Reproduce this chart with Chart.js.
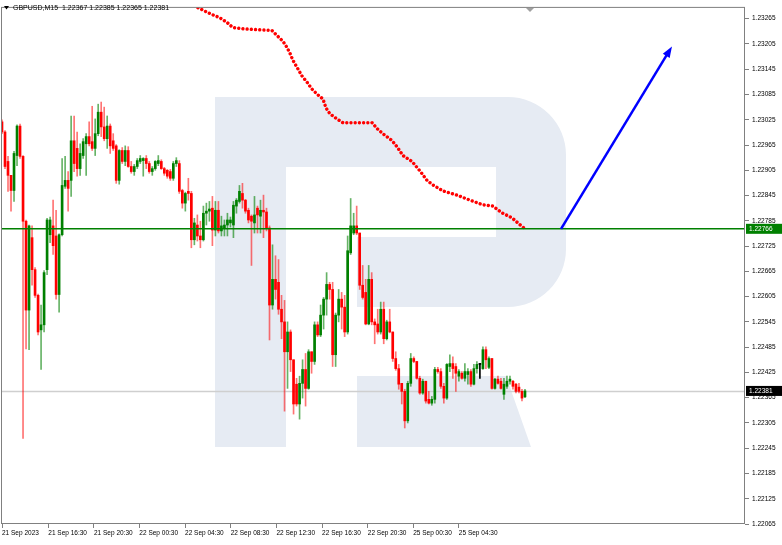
<!DOCTYPE html>
<html>
<head>
<meta charset="utf-8">
<title>GBPUSD,M15</title>
<script src="https://cdn.jsdelivr.net/npm/chart.js@4.4.0/dist/chart.umd.min.js"></script>
<style>
html, body { margin: 0; padding: 0; background: #fff; }
#wrap { width: 782px; height: 545px; }
</style>
</head>
<body>
<div id="wrap"><canvas id="chart" width="782" height="545"></canvas></div>
<script>
//==========
// Data

const symbol = "GBPUSD,M15";

const openP = [
	1.23020,1.22996,1.22926,1.22893,1.22857,1.22940,1.23010,1.22938,1.22784,1.22573,
	1.22745,1.22669,1.22608,1.22526,1.22538,1.22669,1.22752,1.22773,1.22749,1.22610,
	1.22752,1.22867,1.22881,1.22881,1.22975,1.22957,1.22909,1.22940,1.22968,1.22985,
	1.22973,1.22957,1.22992,1.23043,1.23008,1.22980,1.23010,1.22975,1.22963,1.22881,
	1.22952,1.22926,1.22952,1.22914,1.22902,1.22914,1.22926,1.22928,1.22933,1.22921,
	1.22902,1.22909,1.22921,1.22926,1.22909,1.22905,1.22902,1.22886,1.22921,1.22921,
	1.22857,1.22827,1.22855,1.22850,1.22740,1.22775,1.22749,1.22740,1.22803,1.22808,
	1.22815,1.22763,1.22810,1.22761,1.22768,1.22775,1.22780,1.22775,1.22820,1.22831,
	1.22850,1.22834,1.22810,1.22796,1.22780,1.22815,1.22796,1.22810,1.22806,1.22768,
	1.22585,1.22646,1.22639,1.22575,1.22545,1.22474,1.22521,1.22455,1.22397,1.22350,
	1.22399,1.22432,1.22387,1.22474,1.22451,1.22538,1.22514,1.22561,1.22599,1.22634,
	1.22622,1.22467,1.22561,1.22599,1.22580,1.22521,1.22709,1.22756,1.22773,1.22756,
	1.22632,1.22615,1.22540,1.22646,1.22545,1.22540,1.22521,1.22575,1.22505,1.22545,
	1.22521,1.22458,1.22434,1.22399,1.22380,1.22310,1.22399,1.22458,1.22451,1.22411,
	1.22376,1.22404,1.22361,1.22352,1.22361,1.22432,1.22427,1.22392,1.22364,1.22439,
	1.22446,1.22439,1.22416,1.22423,1.22411,1.22420,1.22427,1.22397,1.22434,1.22444,
	1.22434,1.22479,1.22437,1.22458,1.22387,1.22409,1.22404,1.22373,1.22392,1.22404,
	1.22404,1.22397,1.22390,1.22380,1.22367
];
const highP = [
	1.23025,1.22999,1.22938,1.22893,1.22950,1.23013,1.23015,1.22940,1.22787,1.22775,
	1.22773,1.22674,1.22611,1.22585,1.22667,1.22791,1.22794,1.22834,1.22810,1.22754,
	1.22933,1.22938,1.22902,1.23034,1.23034,1.22996,1.22968,1.22980,1.22992,1.23020,
	1.23057,1.23027,1.23062,1.23067,1.23055,1.23034,1.23015,1.22992,1.22966,1.22954,
	1.22959,1.22963,1.22961,1.22926,1.22919,1.22933,1.22940,1.22935,1.22940,1.22926,
	1.22914,1.22928,1.22940,1.22930,1.22912,1.22907,1.22907,1.22926,1.22935,1.22928,
	1.22860,1.22853,1.22886,1.22855,1.22791,1.22799,1.22784,1.22820,1.22827,1.22831,
	1.22843,1.22831,1.22831,1.22796,1.22787,1.22803,1.22794,1.22831,1.22838,1.22869,
	1.22874,1.22836,1.22815,1.22799,1.22843,1.22820,1.22834,1.22846,1.22815,1.22773,
	1.22728,1.22702,1.22693,1.22608,1.22596,1.22545,1.22526,1.22455,1.22411,1.22416,
	1.22455,1.22470,1.22479,1.22474,1.22545,1.22545,1.22585,1.22603,1.22662,1.22639,
	1.22639,1.22566,1.22622,1.22615,1.22608,1.22749,1.22838,1.22803,1.22820,1.22756,
	1.22679,1.22646,1.22679,1.22662,1.22552,1.22575,1.22592,1.22592,1.22549,1.22575,
	1.22521,1.22474,1.22444,1.22399,1.22385,1.22404,1.22470,1.22462,1.22451,1.22416,
	1.22409,1.22404,1.22380,1.22368,1.22437,1.22437,1.22434,1.22399,1.22446,1.22467,
	1.22462,1.22446,1.22432,1.22427,1.22446,1.22434,1.22432,1.22444,1.22451,1.22446,
	1.22486,1.22486,1.22462,1.22458,1.22411,1.22416,1.22411,1.22411,1.22416,1.22416,
	1.22406,1.22399,1.22399,1.22385,1.22385
];
const lowP = [
	1.22992,1.22909,1.22855,1.22808,1.22831,1.22916,1.22933,1.22268,1.22481,1.22479,
	1.22632,1.22603,1.22514,1.22432,1.22521,1.22657,1.22733,1.22705,1.22599,1.22568,
	1.22749,1.22862,1.22808,1.22843,1.22902,1.22891,1.22893,1.22933,1.22893,1.22963,
	1.22952,1.22940,1.22987,1.22985,1.22975,1.22957,1.22945,1.22952,1.22874,1.22872,
	1.22921,1.22916,1.22912,1.22898,1.22893,1.22909,1.22921,1.22891,1.22909,1.22898,
	1.22893,1.22905,1.22916,1.22907,1.22893,1.22886,1.22881,1.22881,1.22914,1.22850,
	1.22815,1.22808,1.22834,1.22721,1.22728,1.22737,1.22721,1.22737,1.22775,1.22784,
	1.22726,1.22749,1.22756,1.22749,1.22749,1.22749,1.22770,1.22745,1.22803,1.22827,
	1.22815,1.22803,1.22780,1.22679,1.22756,1.22756,1.22756,1.22745,1.22761,1.22502,
	1.22575,1.22599,1.22563,1.22505,1.22333,1.22387,1.22427,1.22326,1.22345,1.22314,
	1.22364,1.22345,1.22385,1.22423,1.22444,1.22510,1.22510,1.22528,1.22561,1.22599,
	1.22439,1.22439,1.22545,1.22528,1.22510,1.22516,1.22705,1.22752,1.22752,1.22622,
	1.22599,1.22538,1.22538,1.22538,1.22493,1.22516,1.22516,1.22493,1.22502,1.22519,
	1.22451,1.22430,1.22385,1.22350,1.22293,1.22305,1.22392,1.22448,1.22409,1.22373,
	1.22373,1.22352,1.22350,1.22347,1.22352,1.22423,1.22387,1.22352,1.22361,1.22427,
	1.22411,1.22380,1.22404,1.22409,1.22404,1.22397,1.22392,1.22395,1.22423,1.22411,
	1.22432,1.22434,1.22434,1.22385,1.22385,1.22397,1.22385,1.22361,1.22387,1.22397,
	1.22385,1.22376,1.22376,1.22357,1.22365
];
const closeP = [
	1.22996,1.22914,1.22893,1.22857,1.22945,1.23010,1.22938,1.22784,1.22573,1.22773,
	1.22669,1.22608,1.22521,1.22538,1.22662,1.22787,1.22787,1.22726,1.22610,1.22752,
	1.22869,1.22881,1.22862,1.22975,1.22921,1.22909,1.22945,1.22973,1.22985,1.22968,
	1.22957,1.22992,1.23043,1.23008,1.22980,1.23010,1.22963,1.22957,1.22881,1.22952,
	1.22926,1.22952,1.22914,1.22902,1.22914,1.22928,1.22933,1.22933,1.22921,1.22902,
	1.22909,1.22926,1.22928,1.22909,1.22898,1.22891,1.22886,1.22921,1.22928,1.22855,
	1.22827,1.22850,1.22850,1.22740,1.22780,1.22749,1.22740,1.22803,1.22808,1.22813,
	1.22763,1.22810,1.22761,1.22773,1.22775,1.22787,1.22787,1.22822,1.22834,1.22855,
	1.22834,1.22808,1.22787,1.22784,1.22799,1.22799,1.22810,1.22806,1.22768,1.22585,
	1.22646,1.22622,1.22575,1.22545,1.22474,1.22521,1.22455,1.22350,1.22350,1.22399,
	1.22432,1.22387,1.22474,1.22451,1.22538,1.22514,1.22561,1.22599,1.22634,1.22622,
	1.22467,1.22561,1.22599,1.22580,1.22521,1.22714,1.22773,1.22773,1.22756,1.22632,
	1.22603,1.22540,1.22646,1.22545,1.22538,1.22521,1.22575,1.22505,1.22545,1.22521,
	1.22458,1.22434,1.22397,1.22380,1.22310,1.22399,1.22458,1.22451,1.22411,1.22376,
	1.22404,1.22357,1.22352,1.22361,1.22432,1.22427,1.22392,1.22364,1.22444,1.22446,
	1.22434,1.22423,1.22427,1.22411,1.22427,1.22427,1.22397,1.22434,1.22444,1.22444,
	1.22479,1.22455,1.22458,1.22387,1.22409,1.22399,1.22387,1.22397,1.22404,1.22409,
	1.22392,1.22380,1.22380,1.22364,1.22381
];

// time axis labels, placed at candle positions
const timeLabels = ["21 Sep 2023","21 Sep 16:30","21 Sep 20:30","22 Sep 00:30","22 Sep 04:30",
	"22 Sep 08:30","22 Sep 12:30","22 Sep 16:30","22 Sep 20:30","25 Sep 00:30","25 Sep 04:30"];
const timeIdx = [0, 15.4, 30.6, 45.7, 60.9, 76.1, 91.3, 106.5, 121.7, 136.8, 152.0];

// price scale
const priceTicks = [1.22065,1.22125,1.22185,1.22245,1.22305,1.22365,1.22425,1.22485,1.22545,1.22605,
	1.22665,1.22725,1.22785,1.22845,1.22905,1.22965,1.23025,1.23085,1.23145,1.23205,1.23265];

const levelPrice = 1.22766;// horizontal level
const bidPrice = 1.22381;// current price

// red dotted projection
const trendIdx = [65.2,69.2,72.5,74.9,76.8,80.2,84.8,89.8,91.8,93.5,94.8,95.8,96.8,98.1,99.8,101.5,
	103.1,104.8,106.8,107.8,109.1,111.4,113.4,118.1,123.1,124.8,126.7,129.7,131.4,133.4,136.4,
	139.1,141.4,143.4,146.7,151.4,155.7,160.0,163.3,166.3,169.7,172.3,174.0];
const trendPrice = [1.23291,1.23277,1.23267,1.23256,1.23244,1.23241,1.23239,1.23237,1.23223,1.23211,
	1.23197,1.23183,1.23166,1.23150,1.23129,1.23114,1.23098,1.23086,1.23074,1.23053,1.23039,1.23027,
	1.23018,1.23018,1.23018,1.23004,1.22992,1.22976,1.22961,1.22940,1.22926,1.22903,1.22881,1.22870,
	1.22856,1.22846,1.22834,1.22823,1.22820,1.22804,1.22792,1.22776,1.22766];

// blue forecast arrow
const arrowIdx = [186.0, 222.9];
const arrowPrice = [1.22766, 1.23199];

//==========
// Colors

const BULL = "rgb(0,128,0)";
const BEAR = "rgb(255,0,0)";
const BULL_WICK = "rgba(0,128,0,0.6)";
const BEAR_WICK = "rgba(255,0,0,0.55)";

function candleColor(i, wick){
	if(closeP[i] > openP[i]) return wick ? BULL_WICK : BULL;
	if(closeP[i] < openP[i]) return wick ? BEAR_WICK : BEAR;
	return "#000";
}

const wicks = [];
const bodies = [];
const wickColors = [];
const bodyColors = [];
for(let i=0; i<openP.length; i++){
	wicks.push({x: i, y: [lowP[i], highP[i]]});
	bodies.push({x: i, y: [Math.min(openP[i], closeP[i]), Math.max(openP[i], closeP[i])]});
	wickColors.push(candleColor(i, true));
	bodyColors.push(candleColor(i, false));
}
const trend = trendIdx.map((v, i)=>({x: v, y: trendPrice[i]}));

//==========
// Plugins

// watermark logo behind the candles
const logoPlugin = {
	id: "logo",
	beforeDatasetsDraw(chart){
		const ctx = chart.ctx;
		ctx.save();
		ctx.fillStyle = "#e6ebf3";
		ctx.beginPath();
		ctx.moveTo(215, 97);
		ctx.lineTo(506, 97);
		ctx.arcTo(566, 97, 566, 157, 58);
		ctx.lineTo(566, 250);
		ctx.arcTo(566, 307, 506, 307, 58);
		ctx.lineTo(357, 307);
		ctx.lineTo(357, 237);
		ctx.lineTo(496, 237);
		ctx.lineTo(496, 167);
		ctx.lineTo(286, 167);
		ctx.lineTo(286, 447);
		ctx.lineTo(215, 447);
		ctx.closePath();
		ctx.fill();
		// leg
		ctx.beginPath();
		ctx.moveTo(357, 376);
		ctx.lineTo(506, 376);
		ctx.lineTo(531, 447);
		ctx.lineTo(357, 447);
		ctx.closePath();
		ctx.fill();
		// bid line
		const y = Math.round(chart.scales.y.getPixelForValue(bidPrice)) + 0.5;
		ctx.strokeStyle = "#cfcfcf";
		ctx.lineWidth = 1.5;
		ctx.beginPath();
		ctx.moveTo(chart.chartArea.left, y);
		ctx.lineTo(chart.chartArea.right, y);
		ctx.stroke();
		ctx.restore();
	}
};

const overlayPlugin = {
	id: "overlay",
	afterDatasetsDraw(chart){
		const ctx = chart.ctx;
		const xs = chart.scales.x, ys = chart.scales.y;
		const area = chart.chartArea;
		ctx.save();
		// green level
		const ly = ys.getPixelForValue(levelPrice);
		ctx.strokeStyle = "rgb(0,128,0)";
		ctx.lineWidth = 1.5;
		ctx.beginPath();
		ctx.moveTo(area.left, ly);
		ctx.lineTo(area.right, ly);
		ctx.stroke();
		// arrow
		const x1 = xs.getPixelForValue(arrowIdx[0]), y1 = ys.getPixelForValue(arrowPrice[0]);
		const x2 = xs.getPixelForValue(arrowIdx[1]), y2 = ys.getPixelForValue(arrowPrice[1]);
		const ang = Math.atan2(y2 - y1, x2 - x1);
		ctx.strokeStyle = "#0000ff";
		ctx.fillStyle = "#0000ff";
		ctx.lineWidth = 2.5;
		ctx.beginPath();
		ctx.moveTo(x1, y1);
		ctx.lineTo(x2 - 7 * Math.cos(ang), y2 - 7 * Math.sin(ang));
		ctx.stroke();
		ctx.beginPath();
		ctx.moveTo(x2, y2);
		ctx.lineTo(x2 - 11 * Math.cos(ang) + 4 * Math.sin(ang), y2 - 11 * Math.sin(ang) - 4 * Math.cos(ang));
		ctx.lineTo(x2 - 11 * Math.cos(ang) - 4 * Math.sin(ang), y2 - 11 * Math.sin(ang) + 4 * Math.cos(ang));
		ctx.closePath();
		ctx.fill();
		ctx.restore();
	},
	afterDraw(chart){
		const ctx = chart.ctx;
		const ys = chart.scales.y;
		const area = chart.chartArea;
		ctx.save();
		// frame
		ctx.strokeStyle = "#808080";
		ctx.lineWidth = 1;
		ctx.strokeRect(area.left + 0.5, area.top + 0.5, area.right - area.left - 1, area.bottom - area.top - 1);
		// price boxes on the axis
		ctx.font = "6.5px 'Liberation Sans', Arial, sans-serif";
		ctx.textBaseline = "middle";
		const boxes = [[levelPrice, "rgb(0,128,0)"], [bidPrice, "#000"]];
		for(const [p, col] of boxes){
			const y = ys.getPixelForValue(p);
			ctx.fillStyle = col;
			ctx.fillRect(area.right + 1, y - 5, 36, 10);
			ctx.fillStyle = "#fff";
			ctx.fillText(p.toFixed(5), area.right + 4, y + 0.5);
		}
		// header
		ctx.fillStyle = "#000";
		ctx.beginPath();
		ctx.moveTo(4, 6);
		ctx.lineTo(9, 6);
		ctx.lineTo(6.5, 9.5);
		ctx.closePath();
		ctx.fill();
		ctx.font = "7px 'Liberation Sans', Arial, sans-serif";
		const n = openP.length - 1;
		const head = symbol + "  " + [openP[n], highP[n], lowP[n], closeP[n]].map(v=>v.toFixed(5)).join(" ");
		ctx.fillText(head, 13, 8);
		// shift marker
		ctx.fillStyle = "#a0a0a0";
		ctx.beginPath();
		ctx.moveTo(526, area.top + 1);
		ctx.lineTo(534, area.top + 1);
		ctx.lineTo(530, area.top + 5);
		ctx.closePath();
		ctx.fill();
		ctx.restore();
	}
};

//==========
// Chart

Chart.defaults.font.family = "'Liberation Sans', Arial, sans-serif";
Chart.defaults.color = "#000";

const ctx = document.getElementById("chart").getContext("2d");
const myChart = new Chart(ctx, {
	type: "bar",
	data: {
		datasets: [
			{
				type: "line",
				data: trend,
				borderColor: "#ff0000",
				borderWidth: 3.4,
				borderCapStyle: "round",
				borderDash: [0.01, 4.2],
				pointRadius: 0,
				tension: 0,
				order: 0
			},
			{
				data: bodies,
				backgroundColor: bodyColors,
				barThickness: 2,
				minBarLength: 1,
				grouped: false,
				order: 1
			},
			{
				data: wicks,
				backgroundColor: wickColors,
				barThickness: 1,
				minBarLength: 1,
				grouped: false,
				order: 2
			}
		]
	},
	options: {
		responsive: false,
		animation: false,
		devicePixelRatio: 1,
		layout: {padding: {left: 1, top: 2, right: 0, bottom: 0}},
		plugins: {
			legend: {display: false},
			tooltip: {enabled: false}
		},
		scales: {
			x: {
				type: "linear",
				min: -0.333,
				max: 247.2,
				offset: false,
				afterFit: s=>{ s.height = 21; },
				afterBuildTicks: s=>{ s.ticks = timeIdx.map(v=>({value: v})); },
				ticks: {
					autoSkip: false,
					maxRotation: 0,
					minRotation: 0,
					align: "start",
					padding: 1,
					font: {size: 6.5},
					callback: (v, i)=>timeLabels[i]
				},
				grid: {drawOnChartArea: false, offset: false, tickLength: 4, color: "#808080"},
				border: {display: false}
			},
			y: {
				position: "right",
				min: 1.22065,
				max: 1.23293,
				afterFit: s=>{ s.width = 37; },
				afterBuildTicks: s=>{ s.ticks = priceTicks.map(v=>({value: v})); },
				ticks: {
					padding: 3,
					font: {size: 6.5},
					callback: v=>v.toFixed(5)
				},
				grid: {drawOnChartArea: false, tickLength: 4, color: "#808080"},
				border: {display: false}
			}
		}
	},
	plugins: [logoPlugin, overlayPlugin]
});
</script>
</body>
</html>
